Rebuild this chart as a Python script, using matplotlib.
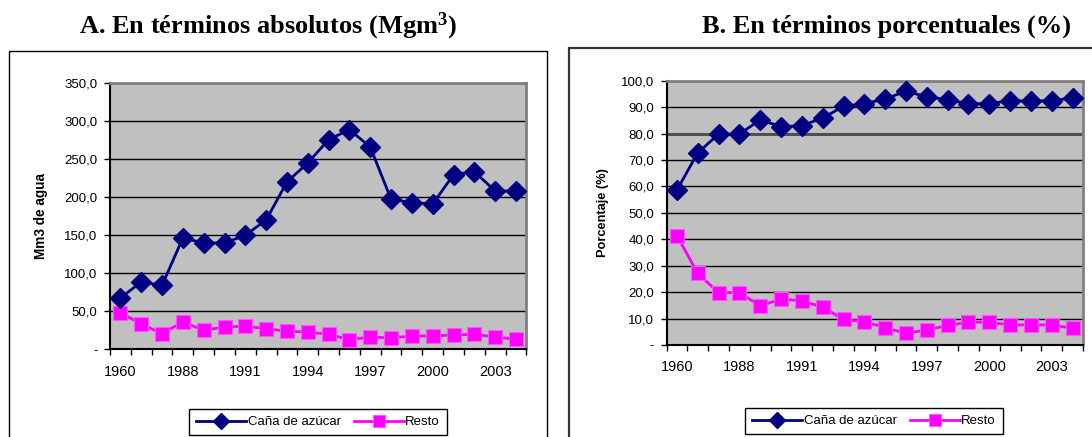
import matplotlib
matplotlib.use("Agg")
import matplotlib.pyplot as plt
from matplotlib.patches import Rectangle
import numpy as np

# Years (only every third one is labelled on the axis)
years = ["1960", "1970", "1980", "1988", "1989", "1990", "1991", "1992",
         "1993", "1994", "1995", "1996", "1997", "1998", "1999", "2000",
         "2001", "2002", "2003", "2004"]

# A. Water use in absolute terms (Mm3)
cana_abs = [67.5, 88.6, 84.2, 146.5, 139.9, 139.9, 150.0, 170.2, 220.2, 245.2,
            275.9, 289.0, 266.2, 197.4, 193.0, 191.2, 229.8, 233.8, 208.3, 208.3]
resto_abs = [48.2, 33.3, 20.6, 36.0, 25.0, 29.4, 30.3, 27.2, 23.7, 22.8,
             19.7, 12.7, 16.2, 14.9, 17.5, 17.5, 18.9, 19.7, 16.2, 13.2]

# B. Shares in percent
cana_pct = [58.6, 72.7, 79.8, 79.8, 85.2, 82.6, 83.0, 85.9, 90.3, 91.3,
            93.1, 96.0, 93.9, 92.8, 91.3, 91.3, 92.5, 92.2, 92.5, 93.4]
resto_pct = [41.4, 27.1, 19.8, 19.8, 14.8, 17.4, 16.7, 14.3, 9.7, 8.8,
             6.6, 4.4, 5.7, 7.4, 8.6, 8.6, 7.6, 7.6, 7.6, 6.3]

series_names = ["Caña de azúcar", "Resto"]
titles = ["A. En términos absolutos (Mgm$^{3}$)", "B. En términos porcentuales (%)"]
ylabels = ["Mm3 de agua", "Porcentaje (%)"]

NAVY = "#000080"
MAGENTA = "#FF00FF"
PLOT_BG = "#C0C0C0"

plt.rcParams["font.family"] = ["Liberation Sans", "DejaVu Sans"]
plt.rcParams["mathtext.fontset"] = "custom"
plt.rcParams["mathtext.rm"] = "Liberation Serif:bold"
plt.rcParams["mathtext.default"] = "rm"

W, H = 1092, 437
fig = plt.figure(figsize=(W / 100, H / 100), dpi=100)


def fx(px):
    return px / W


def fy(py):
    return 1 - py / H


def fmt_tick(v):
    return "-" if v == 0 else f"{v:.1f}".replace(".", ",")


def panel(left, top, right, bottom, cana, resto, ymax, ystep, ylabel, ylabel_x,
          ylabel_size, title, title_x, legend_center, frame, frame_color,
          frame_lw, heavy_grid=None):
    # outer chart frame
    fl, ft, fr = frame
    fig.add_artist(Rectangle((fx(fl), fy(600)), (fr - fl) / W, (600 - ft) / H,
                             transform=fig.transFigure, fill=False,
                             ec=frame_color, lw=frame_lw, zorder=0))
    fig.text(fx(title_x), fy(33), title, ha="center", va="baseline",
             fontsize=19, fontweight="bold", family="Liberation Serif")

    width_px = right - left
    ax = fig.add_axes([fx(left), fy(bottom), width_px / W, (bottom - top) / H])
    ax.set_facecolor(PLOT_BG)
    x = np.arange(len(years))
    ax.plot(x, cana, color=NAVY, lw=2.0, marker="D", ms=10, mfc=NAVY, mec=NAVY,
            label=series_names[0], clip_on=False, zorder=4)
    ax.plot(x, resto, color=MAGENTA, lw=2.0, marker="s", ms=10.5, mfc=MAGENTA,
            mec="#FF55FF", mew=0.8, label=series_names[1], clip_on=False, zorder=3)

    ax.set_xlim(-0.5, len(years) - 0.5)
    ax.set_ylim(0, ymax)
    yt = np.arange(0, ymax + ystep / 2, ystep)
    ax.set_yticks(yt)
    ax.set_yticklabels([fmt_tick(v) for v in yt])
    ax.yaxis.grid(True, color="black", lw=1.0)
    ax.set_axisbelow(True)
    if heavy_grid is not None:
        idx = int(round(heavy_grid / ystep))
        gl = ax.get_ygridlines()[idx]
        gl.set_linewidth(2.2)
        gl.set_color("#505050")

    ax.set_xticks(x[::3])
    ax.set_xticklabels(years[::3])
    ax.set_xticks(np.arange(-0.5, len(years)), minor=True)
    ax.tick_params(axis="x", which="major", length=0, pad=11, labelsize=10.5)
    ax.tick_params(axis="x", which="minor", length=4, width=1, direction="out")
    ax.tick_params(axis="y", length=4, width=1, direction="out", labelsize=9.5,
                   pad=5)

    for side in ("left", "bottom"):
        ax.spines[side].set_color("black")
        ax.spines[side].set_linewidth(1.5)
    for side in ("top", "right"):
        ax.spines[side].set_color("#808080")
        ax.spines[side].set_linewidth(2)

    ax.set_ylabel(ylabel, fontsize=ylabel_size, fontweight="bold")
    ax.yaxis.set_label_coords((ylabel_x - left) / width_px, 0.5)

    handles, labels = ax.get_legend_handles_labels()
    leg = fig.legend(handles, labels, loc="center",
                     bbox_to_anchor=(fx(legend_center[0]), fy(legend_center[1])),
                     ncol=2, fontsize=9.5, frameon=True, fancybox=False,
                     edgecolor="black", framealpha=1, handlelength=3.8,
                     handletextpad=0.1, columnspacing=1.0, borderpad=0.55,
                     markerscale=0.85)
    leg.get_frame().set_linewidth(1.0)
    return ax


panel(110, 83.3, 526.4, 349.3, cana_abs, resto_abs, 350, 50, ylabels[0], 48,
      9.8, titles[0], 268, (318, 422), (9, 51, 547), "black", 1.0)
panel(666.5, 80.7, 1083, 345, cana_pct, resto_pct, 100, 10, ylabels[1], 609,
      9.2, titles[1], 886, (874, 421), (569, 48, 1200), "#333333", 1.6,
      heavy_grid=80)

fig.savefig("out.png", dpi=100)
